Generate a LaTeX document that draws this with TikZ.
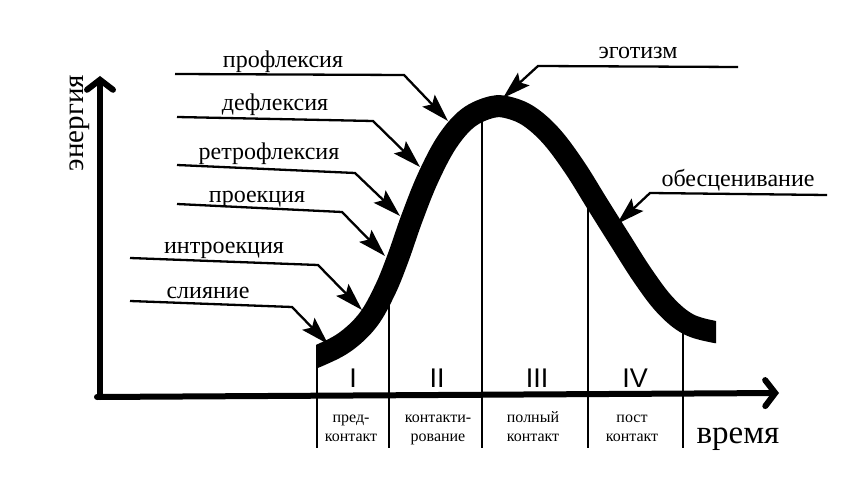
\documentclass[tikz,border=0pt]{standalone}
\usepackage{fontspec}
\setmainfont{Liberation Serif}
\newfontfamily\numfont{Liberation Sans}
\usetikzlibrary{arrows.meta}
\begin{document}
\begin{tikzpicture}[x=1pt,y=-1pt,
  lbl/.style={font=\fontsize{24}{26}\selectfont, anchor=base, inner sep=0pt},
  small/.style={font=\fontsize{16}{19}\selectfont, anchor=base, inner sep=0pt},
  roman/.style={font=\numfont\fontsize{27}{30}\selectfont, anchor=base, inner sep=0pt},
  lead/.style={line width=2.3pt, -{Stealth[length=28pt,width=17pt,inset=5pt]}},
  axis/.style={line width=6pt, line cap=round, -{Straight Barb[length=10pt,width=26pt,line cap=round]}},
  divider/.style={line width=2pt}]
\useasboundingbox (0,0) rectangle (853,494);
% axes
\coordinate (O) at (100,397);
\coordinate (Ytop) at (100,76);
\coordinate (Xend) at (779,393);
\coordinate (Xstart) at (97,397);
\draw[axis] (O) -- (Ytop);
\draw[axis] (Xstart) -- (Xend);
% dividers
\coordinate (d1t) at (317,360); \coordinate (d1b) at (317,448);
\coordinate (d2t) at (389,300); \coordinate (d2b) at (389,448);
\coordinate (d3t) at (482,115); \coordinate (d3b) at (482,448);
\coordinate (d4t) at (588,200); \coordinate (d4b) at (588,448);
\coordinate (d5t) at (683,330); \coordinate (d5b) at (683,448);
\foreach \i in {1,...,5} \draw[divider] (d\i t) -- (d\i b);
% curve
\begin{scope}
\clip (316,80) rectangle (716,380);
\draw[line width=22pt, line cap=butt] plot[smooth, tension=0.6] coordinates {
 (300,362) (318,356) (345,342) (368,320) (385,290) (398,258) (412,218) (428,178)
 (447,142) (468,118) (492,107) (510,108) (530,117) (552,137) (575,168)
 (598,205) (620,240) (643,276) (665,305) (688,324) (715,332) (730,333)};
\end{scope}
% labels
\node[lbl] (t1) at (283,68) {профлексия};
\node[lbl] (t2) at (275,111) {дефлексия};
\node[lbl] (t3) at (269,160) {ретрофлексия};
\node[lbl] (t4) at (257,203) {проекция};
\node[lbl] (t5) at (224,254) {интроекция};
\node[lbl] (t6) at (208,298) {слияние};
\node[lbl] (t7) at (638,59) {эготизм};
\node[lbl] (t8) at (738,187) {обесценивание};
% leader line coordinates
\coordinate (s1) at (175,74);  \coordinate (b1) at (404,75);  \coordinate (e1) at (448,121);
\coordinate (s2) at (177,117); \coordinate (b2) at (373,121); \coordinate (e2) at (420,167);
\coordinate (s3) at (177,165); \coordinate (b3) at (355,173); \coordinate (e3) at (400,216);
\coordinate (s4) at (177,204); \coordinate (b4) at (342,212); \coordinate (e4) at (385,256);
\coordinate (s5) at (130,258); \coordinate (b5) at (318,265); \coordinate (e5) at (362,310);
\coordinate (s6) at (130,301); \coordinate (b6) at (292,307); \coordinate (e6) at (328,344);
\coordinate (s7) at (738,67);  \coordinate (b7) at (538,66);  \coordinate (e7) at (503,98);
\coordinate (s8) at (827,195); \coordinate (b8) at (650,193); \coordinate (e8) at (617,224);
\foreach \i in {1,...,8} \draw[lead] (s\i) -- (b\i) -- (e\i);
% roman numerals
\node[roman] (r1) at (353,387) {I};
\node[roman] (r2) at (437,387) {II};
\node[roman] (r3) at (537,387) {III};
\node[roman] (r4) at (635,387) {IV};
% phase labels
\node[small] (p1a) at (351,422) {пред-};
\node[small] (p1b) at (351,441) {контакт};
\node[small] (p2a) at (438,422) {контакти-};
\node[small] (p2b) at (438,441) {рование};
\node[small] (p3a) at (533,422) {полный};
\node[small] (p3b) at (533,441) {контакт};
\node[small] (p4a) at (632,422) {пост};
\node[small] (p4b) at (632,441) {контакт};
% axis labels
\node[font=\fontsize{33}{36}\selectfont, anchor=base, inner sep=0pt] (time) at (738,443) {время};
\node[font=\fontsize{29}{32}\selectfont, anchor=base, inner sep=0pt, rotate=90] (energy) at (83,123) {энергия};
\end{tikzpicture}
\end{document}
